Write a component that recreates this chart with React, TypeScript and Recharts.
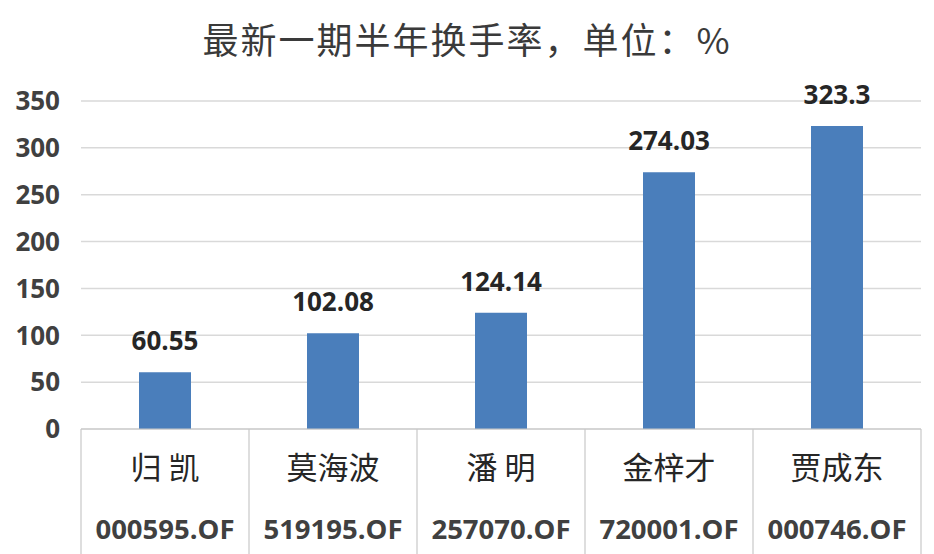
import { BarChart, Bar, XAxis, YAxis, CartesianGrid, LabelList } from "recharts";

// 最新一期半年换手率 (%)
const managers = ["归 凯", "莫海波", "潘 明", "金梓才", "贾成东"];
const fundCodes = ["000595.OF", "519195.OF", "257070.OF", "720001.OF", "000746.OF"];
const turnover = [60.55, 102.08, 124.14, 274.03, 323.3];
const yTicks = [0, 50, 100, 150, 200, 250, 300, 350];

const chartData = managers.map((name, i) => ({
  name,
  code: fundCodes[i],
  value: turnover[i],
}));

const GRID = "#d9d9d9";
const TABLE = "#c8c8c8";
const BAR = "#4a7ebb";

function CategoryTick(props: any) {
  const { x, y, payload, index } = props;
  const half = payload && payload.offset ? payload.offset : 84;
  const last = index === managers.length - 1;
  return (
    <g>
      <line x1={x - half} x2={x - half} y1={y} y2={y + 125} stroke={TABLE} strokeWidth={1.2} />
      {last && (
        <line x1={x + half} x2={x + half} y1={y} y2={y + 125} stroke={TABLE} strokeWidth={1.2} />
      )}
      <text
        x={x}
        y={y + 50}
        textAnchor="middle"
        fontFamily="'Noto Sans CJK SC', sans-serif"
        fontSize={31}
        fill="#262626"
      >
        {payload.value}
      </text>
      <text
        x={x}
        y={y + 110}
        textAnchor="middle"
        fontFamily="'Open Sans', sans-serif"
        fontWeight="bold"
        fontSize={27.5}
        fill="#404040"
      >
        {fundCodes[index]}
      </text>
    </g>
  );
}

export default function App() {
  return (
    <div
      style={{
        position: "absolute",
        left: 0,
        top: 0,
        width: 934,
        height: 554,
        background: "#fff",
      }}
    >
      <div
        style={{
          position: "absolute",
          left: 0,
          top: 18,
          width: 934,
          textAlign: "center",
          fontFamily: "'Noto Sans CJK SC', sans-serif",
          fontSize: 36,
          lineHeight: "40px",
          letterSpacing: 2,
          color: "#3a3a3a",
          fontWeight: 400,
        }}
      >
        最新一期半年换手率，单位：%
      </div>
      <BarChart
        width={934}
        height={554}
        data={chartData}
        margin={{ top: 101, right: 13, bottom: 0, left: 0 }}
      >
        <CartesianGrid vertical={false} stroke={GRID} strokeWidth={1.5} />
        <XAxis
          dataKey="name"
          height={125}
          interval={0}
          tickLine={false}
          tickSize={0}
          tickMargin={0}
          axisLine={{ stroke: TABLE, strokeWidth: 1.2 }}
          tick={<CategoryTick />}
        />
        <YAxis
          width={81}
          domain={[0, 350]}
          ticks={yTicks}
          axisLine={false}
          tickLine={false}
          tickSize={0}
          tickMargin={21}
          tick={{
            fontSize: 26,
            fontWeight: "bold",
            fill: "#404040",
            fontFamily: "'Open Sans', sans-serif",
          }}
        />
        <Bar dataKey="value" fill={BAR} barSize={52} isAnimationActive={false}>
          <LabelList
            dataKey="value"
            position="top"
            offset={22}
            style={{
              fontSize: 26,
              fontWeight: "bold",
              fill: "#262626",
              fontFamily: "'Open Sans', sans-serif",
            }}
          />
        </Bar>
      </BarChart>
    </div>
  );
}
